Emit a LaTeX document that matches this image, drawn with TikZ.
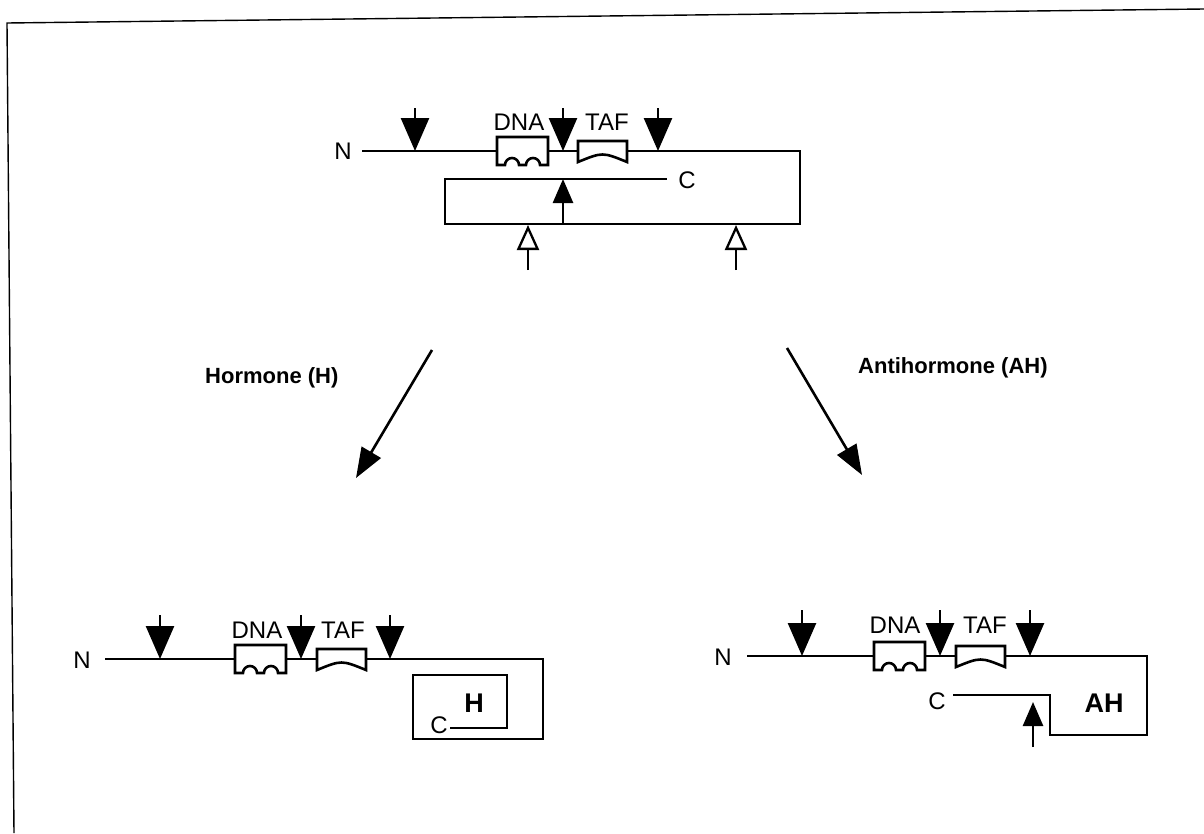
\documentclass[tikz,border=0pt]{standalone}
\usepackage{fontspec}
\setmainfont{Liberation Sans}
\usetikzlibrary{arrows.meta}

\begin{document}
\begin{tikzpicture}[x=1pt,y=-1pt]
  \path[use as bounding box] (0,0) rectangle (1204,833);

  \tikzset{
    grLine/.style={
      draw=black,
      line width=2.6pt,
      line join=miter
    },
    grCut/.style={
      -{Triangle[length=33pt,width=28pt]},
      line width=2.6pt
    },
    grPush/.style={
      -{Triangle[length=24pt,width=20pt]},
      line width=2.6pt
    },
    grOpen/.style={
      -{Triangle[open,length=25pt,width=22pt]},
      line width=2.3pt
    },
    grFlow/.style={
      -{Triangle[length=30pt,width=22pt]},
      line width=2.6pt
    },
    grText/.style={
      inner sep=0pt,
      font=\fontsize{24}{26}\selectfont
    },
    grBold/.style={
      inner sep=0pt,
      font=\fontsize{22}{26}\selectfont\bfseries
    },
    grLigand/.style={
      inner sep=0pt,
      font=\fontsize{27}{30}\selectfont\bfseries
    },
    grDna/.pic={
      \draw[grLine,fill=white] (0,-14) -- (51,-14) -- (51,14) -- (43,14)
        arc[start angle=0,end angle=-180,radius=7] -- (22,14)
        arc[start angle=0,end angle=-180,radius=7] -- (0,14) -- cycle;
    },
    grTaf/.pic={
      \draw[grLine,fill=white] (0,-10) -- (49,-10) -- (49,11)
        .. controls (24.5,1) .. (0,11) -- cycle;
    }
  }

  % page frame (scanned, slightly tilted)
  \draw[line width=1.4pt] (14,833) -- (7,23) -- (1204,9);

  % receptor without ligand
  \node[grText] (topN) at (343,151) {N};
  \draw[grLine] (362,151) -- (800,151) -- (800,224) -- (445,224)
    -- (445,179) -- (667,179);
  \pic at (497,151) {grDna};
  \pic at (578,151) {grTaf};
  \node[grText] (topDna) at (519,122) {DNA};
  \node[grText] (topTaf) at (607,122) {TAF};
  \node[grText] (topC)   at (687,180) {C};
  \draw[grCut]  (415,108) -- (415,151);
  \draw[grCut]  (563,108) -- (563,151);
  \draw[grCut]  (658,108) -- (658,151);
  \draw[grPush] (563,224) -- (563,179);
  \draw[grOpen] (528,270) -- (528,225);
  \draw[grOpen] (736,270) -- (736,225);

  % the two ways down
  \coordinate (hFrom)  at (432,350);
  \coordinate (hTo)    at (356,478);
  \coordinate (ahFrom) at (787,348);
  \coordinate (ahTo)   at (862,475);
  \draw[grFlow] (hFrom) -- (hTo);
  \draw[grFlow] (ahFrom) -- (ahTo);
  \node[grBold,anchor=west] (hLabel)  at (205,378) {Hormone (H)};
  \node[grBold,anchor=west] (ahLabel) at (858,368) {Antihormone (AH)};

  % hormone bound: C end folded inside
  \node[grText] (hN) at (82,660) {N};
  \draw[grLine] (105,659) -- (543,659) -- (543,739) -- (413,739)
    -- (413,675) -- (507,675) -- (507,728) -- (450,728);
  \pic at (235,659) {grDna};
  \pic at (317,659) {grTaf};
  \node[grText]   (hDna) at (257,630) {DNA};
  \node[grText]   (hTaf) at (343,630) {TAF};
  \node[grText]   (hC)   at (439,725) {C};
  \node[grLigand] (hH)   at (474,703) {H};
  \draw[grCut] (160,615) -- (160,659);
  \draw[grCut] (301,615) -- (301,659);
  \draw[grCut] (390,615) -- (390,659);

  % antihormone bound: C end pushed out
  \node[grText] (ahN) at (723,657) {N};
  \draw[grLine] (747,656) -- (1147,656) -- (1147,735) -- (1050,735)
    -- (1050,695) -- (953,695);
  \pic at (874,656) {grDna};
  \pic at (956,656) {grTaf};
  \node[grText]   (ahDna) at (895,625) {DNA};
  \node[grText]   (ahTaf) at (985,625) {TAF};
  \node[grText]   (ahC)   at (937,701) {C};
  \node[grLigand] (ahAH)  at (1104,703) {AH};
  \draw[grCut]  (802,610) -- (802,656);
  \draw[grCut]  (940,610) -- (940,656);
  \draw[grCut]  (1030,610) -- (1030,656);
  \draw[grPush] (1033,747) -- (1033,702);
\end{tikzpicture}
\end{document}
